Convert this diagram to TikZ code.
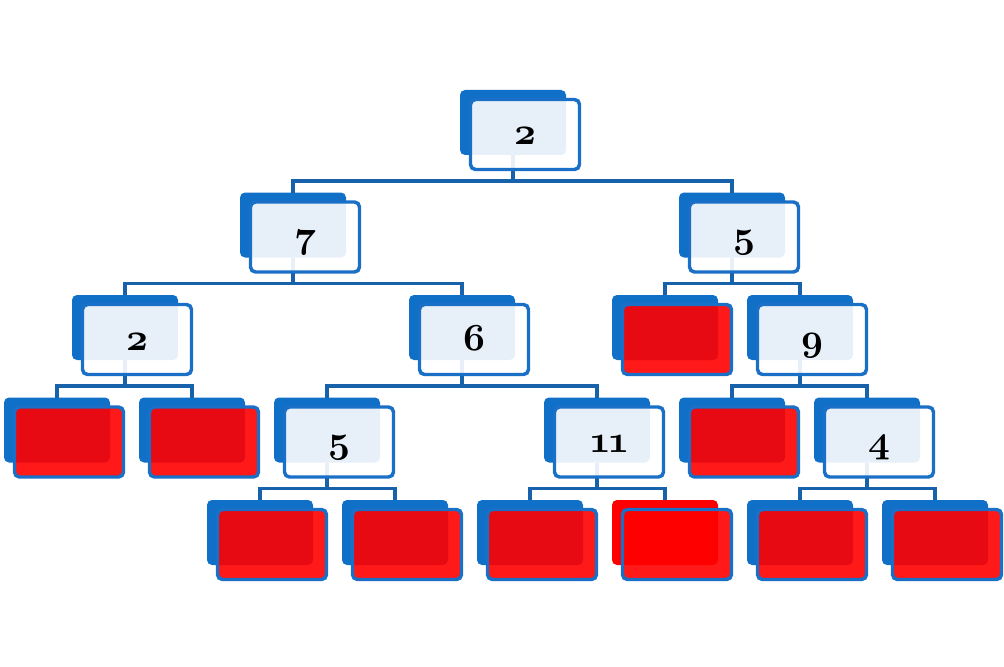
\documentclass[tikz,border=0pt]{standalone}
\begin{document}
\definecolor{backblue}{HTML}{1070C8}
\definecolor{frameblue}{HTML}{1A6FC6}
\definecolor{connblue}{HTML}{1862AB}
% bold old-style digits, enlarged past the largest design size
\newcommand\oldnum[1]{\scalebox{1.15}{\usefont{OML}{cmm}{b}{it}#1}}
\begin{tikzpicture}[x=0.75pt,y=-0.75pt,
  boxbase/.style={rectangle, rounded corners=3.75pt, inner sep=0pt, outer sep=0pt},
  backv/.style={boxbase, minimum width=79.5pt, minimum height=48.75pt, fill=backblue},
  backn/.style={backv},
  backh/.style={backv, fill=red},
  frontv/.style={boxbase, minimum width=81.75pt, minimum height=52.5pt,
    draw=frameblue, line width=2.6pt, fill=white, fill opacity=0.9},
  frontn/.style={frontv, fill=red},
  fronth/.style={frontn},
  conn/.style={draw=connblue, line width=2.7pt},
  numtext/.style={anchor=base, inner sep=0pt, font=\fontsize{24.88}{30}\selectfont}
]
\useasboundingbox (0,0) rectangle (1004,667);
% tree nodes: name / x of back box centre / level / kind
\def\treelist{r/513/0/v, a/293/1/v, b/732/1/v,
  c/125/2/v, d/462/2/v, e/665/2/n, f/800/2/v,
  g/57/3/n, h/192/3/n, i/327/3/v, j/597/3/v, k/732/3/n, l/867/3/v,
  m/260/4/n, n/395/4/n, o/530/4/n, p/665/4/h, q/800/4/n, s/935/4/n}
% back boxes
\foreach \nm/\cx/\lv/\kd in \treelist {
  \pgfmathsetmacro\ty{90+102.5*\lv}
  \node[back\kd] (back-\nm) at (\cx,\ty+32.5) {};
}
% connectors
\foreach \pa/\ch in {r/a, r/b, a/c, a/d, b/e, b/f, c/g, c/h, d/i, d/j,
    f/k, f/l, i/m, i/n, j/o, j/p, l/q, l/s} {
  \draw[conn] (back-\pa.south) -- ++(0,26) -| (back-\ch.north);
}
% front boxes
\foreach \nm/\cx/\lv/\kd in \treelist {
  \pgfmathsetmacro\ty{90+102.5*\lv}
  \node[front\kd] (front-\nm) at (\cx+12,\ty+44.5) {};
}
% values
\foreach \nm/\val in {r/2, a/7, b/5, c/2, d/6, f/9, i/5, l/4} {
  \node[numtext] (val-\nm) at ([yshift=-7.875pt]front-\nm.center) {\oldnum{\val}};
}
\node[numtext] (val-j) at ([yshift=-7.875pt]front-j.center) {\oldnum{1\kern-0.08em 1}};
\end{tikzpicture}
\end{document}
